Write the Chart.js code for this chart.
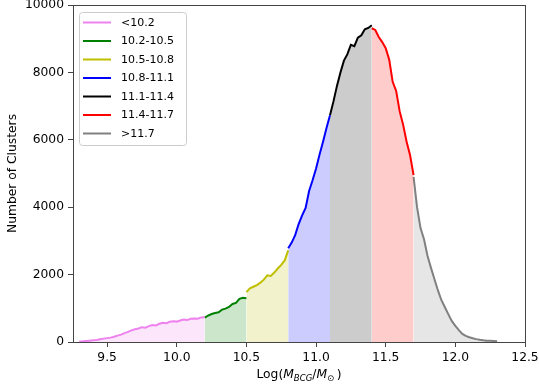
<!DOCTYPE html>
<html lang="en">
<head>
    <meta charset="UTF-8">
    <script src="https://cdn.jsdelivr.net/npm/chart.js@4.4.1/dist/chart.umd.min.js"></script>
    <title>BCG mass distribution</title>
    <style>
        body { margin: 0; background: #fff; }
    </style>
</head>
<body>
    <canvas id="chart" width="539" height="387"></canvas>
    <script>

        // histogram sampled every 0.025 dex, one array per mass bin
        const binWidth = 0.025;
        const labels = ['<10.2', '10.2-10.5', '10.5-10.8', '10.8-11.1', '11.1-11.4', '11.4-11.7', '>11.7'];
        const segStart = [9.3, 10.2, 10.5, 10.8, 11.1, 11.4, 11.7];
        const lineColors = ['violet', 'green', '#bfbf00', 'blue', 'black', 'red', 'gray'];
        const fillColors = ['rgba(238,130,238,0.2)', 'rgba(0,128,0,0.2)', 'rgba(191,191,0,0.2)',
            'rgba(0,0,255,0.2)', 'rgba(0,0,0,0.2)', 'rgba(255,0,0,0.2)', 'rgba(128,128,128,0.2)'];

        const countsA = [15, 20, 30, 40, 50, 60, 80, 100, 115, 130, 155, 190, 220, 265, 300, 345, 380, 400, 440,
            425, 470, 505, 490, 540, 570, 560, 600, 615, 605, 640, 665, 650, 690, 700, 690, 730, 735];
        const countsB = [725, 780, 830, 860, 880, 960, 990, 1040, 1130, 1160, 1280, 1310, 1300];
        const countsC = [1480, 1590, 1640, 1690, 1760, 1850, 1980, 1960, 2060, 2180, 2290, 2420, 2720];
        const countsD = [2780, 2950, 3170, 3500, 3760, 3980, 4480, 4800, 5150, 5560, 5940, 6350, 6730];
        const countsE = [6730, 7140, 7600, 8000, 8350, 8540, 8820, 8780, 9030, 9100, 9280, 9320, 9400];
        const countsF = [9310, 9260, 9050, 8900, 8720, 8380, 7720, 7450, 6850, 6450, 5940, 5540, 4950];
        const countsG = [4900, 4000, 3380, 3050, 2560, 2200, 1860, 1530, 1240, 1030, 820, 620, 480, 350, 240,
            180, 140, 110, 85, 65, 50, 40, 35, 30, 25];
        const allCounts = [countsA, countsB, countsC, countsD, countsE, countsF, countsG];

        const xTicks = [9.5, 10.0, 10.5, 11.0, 11.5, 12.0, 12.5];
        const yTicks = [0, 2000, 4000, 6000, 8000, 10000];

        const font = 'DejaVu Sans';
        const axisColor = '#444';

        const datasets = allCounts.map((counts, k) => ({
            label: labels[k],
            data: counts.map((c, i) => ({ x: +(segStart[k] + i * binWidth).toFixed(3), y: c })),
            borderColor: lineColors[k],
            backgroundColor: fillColors[k],
            borderWidth: 2,
            pointRadius: 0,
            tension: 0,
            fill: 'origin'
        }));

        // frame, axis titles and legend box drawn by hand (matplotlib look)
        const extras = {
            id: 'extras',
            afterDraw(chart) {
                const c = chart.ctx;
                const a = chart.chartArea;
                c.save();
                c.strokeStyle = axisColor;
                c.lineWidth = 1;
                c.strokeRect(a.left + 0.5, a.top + 0.5, a.right - a.left, a.bottom - a.top);

                // y title
                c.fillStyle = '#000';
                c.font = '12.3px "' + font + '"';
                c.textAlign = 'center';
                c.textBaseline = 'middle';
                c.save();
                c.translate(12.5, (a.top + a.bottom) / 2);
                c.rotate(-Math.PI / 2);
                c.fillText('Number of Clusters', 0, 0);
                c.restore();

                // x title: Log(M_BCG/M_sun)
                const big = '12.3px "' + font + '"';
                const bigIt = 'italic 12.3px "' + font + '"';
                const sub = 'italic 8.6px "' + font + '"';
                const subR = '8.6px "' + font + '"';
                const parts = [
                    ['Log(', big, 0], ['M', bigIt, 0], ['BCG', sub, 3], ['/', big, 0],
                    ['M', bigIt, 0], ['\u2299', subR, 3], ['\u2009)', big, 0]
                ];
                let total = 0;
                parts.forEach(p => { c.font = p[1]; total += c.measureText(p[0]).width; });
                let x = (a.left + a.right) / 2 - total / 2;
                c.textAlign = 'left';
                c.textBaseline = 'alphabetic';
                parts.forEach(p => {
                    c.font = p[1];
                    c.fillText(p[0], x, 378 + p[2]);
                    x += c.measureText(p[0]).width;
                });

                // legend
                const lx = a.left + 6, ly = a.top + 7, lw = 107, lh = 133;
                c.beginPath();
                c.roundRect(lx + 0.5, ly + 0.5, lw, lh, 3);
                c.fillStyle = 'rgba(255,255,255,0.8)';
                c.fill();
                c.strokeStyle = '#ccc';
                c.stroke();
                c.font = '11px "' + font + '"';
                c.textBaseline = 'middle';
                labels.forEach((lab, k) => {
                    const y = ly + 10.5 + k * 18.5;
                    c.beginPath();
                    c.moveTo(lx + 4, y);
                    c.lineTo(lx + 32, y);
                    c.strokeStyle = lineColors[k];
                    c.lineWidth = 2;
                    c.stroke();
                    c.fillStyle = '#000';
                    c.fillText(lab, lx + 42, y + 0.5);
                });
                c.restore();
            }
        };

        const ctx = document.getElementById('chart').getContext('2d');
        const chart = new Chart(ctx, {
            type: 'line',
            data: { datasets: datasets },
            plugins: [extras],
            options: {
                responsive: false,
                animation: false,
                layout: { padding: { top: 5, right: 14, left: 0, bottom: 0 } },
                plugins: { legend: { display: false }, tooltip: { enabled: false } },
                scales: {
                    x: {
                        type: 'linear',
                        min: 9.255,
                        max: 12.5,
                        afterBuildTicks: s => { s.ticks = xTicks.map(v => ({ value: v })); },
                        afterFit: s => { s.height = 45; s.paddingLeft = 0; s.paddingRight = 0; },
                        ticks: {
                            color: '#000',
                            padding: 3,
                            maxRotation: 0,
                            font: { family: font, size: 12.3 },
                            callback: v => v.toFixed(1)
                        },
                        grid: { drawOnChartArea: false, color: axisColor, tickLength: 5 },
                        border: { color: axisColor, width: 1 }
                    },
                    y: {
                        min: 0,
                        max: 10000,
                        afterBuildTicks: s => { s.ticks = yTicks.map(v => ({ value: v })); },
                        afterFit: s => { s.width = 73; s.paddingTop = 0; s.paddingBottom = 0; },
                        ticks: {
                            color: '#000',
                            padding: 4,
                            font: { family: font, size: 12.3 },
                            callback: v => String(v)
                        },
                        grid: { drawOnChartArea: false, color: axisColor, tickLength: 5 },
                        border: { color: axisColor, width: 1 }
                    }
                }
            }
        });

    </script>
</body>
</html>
